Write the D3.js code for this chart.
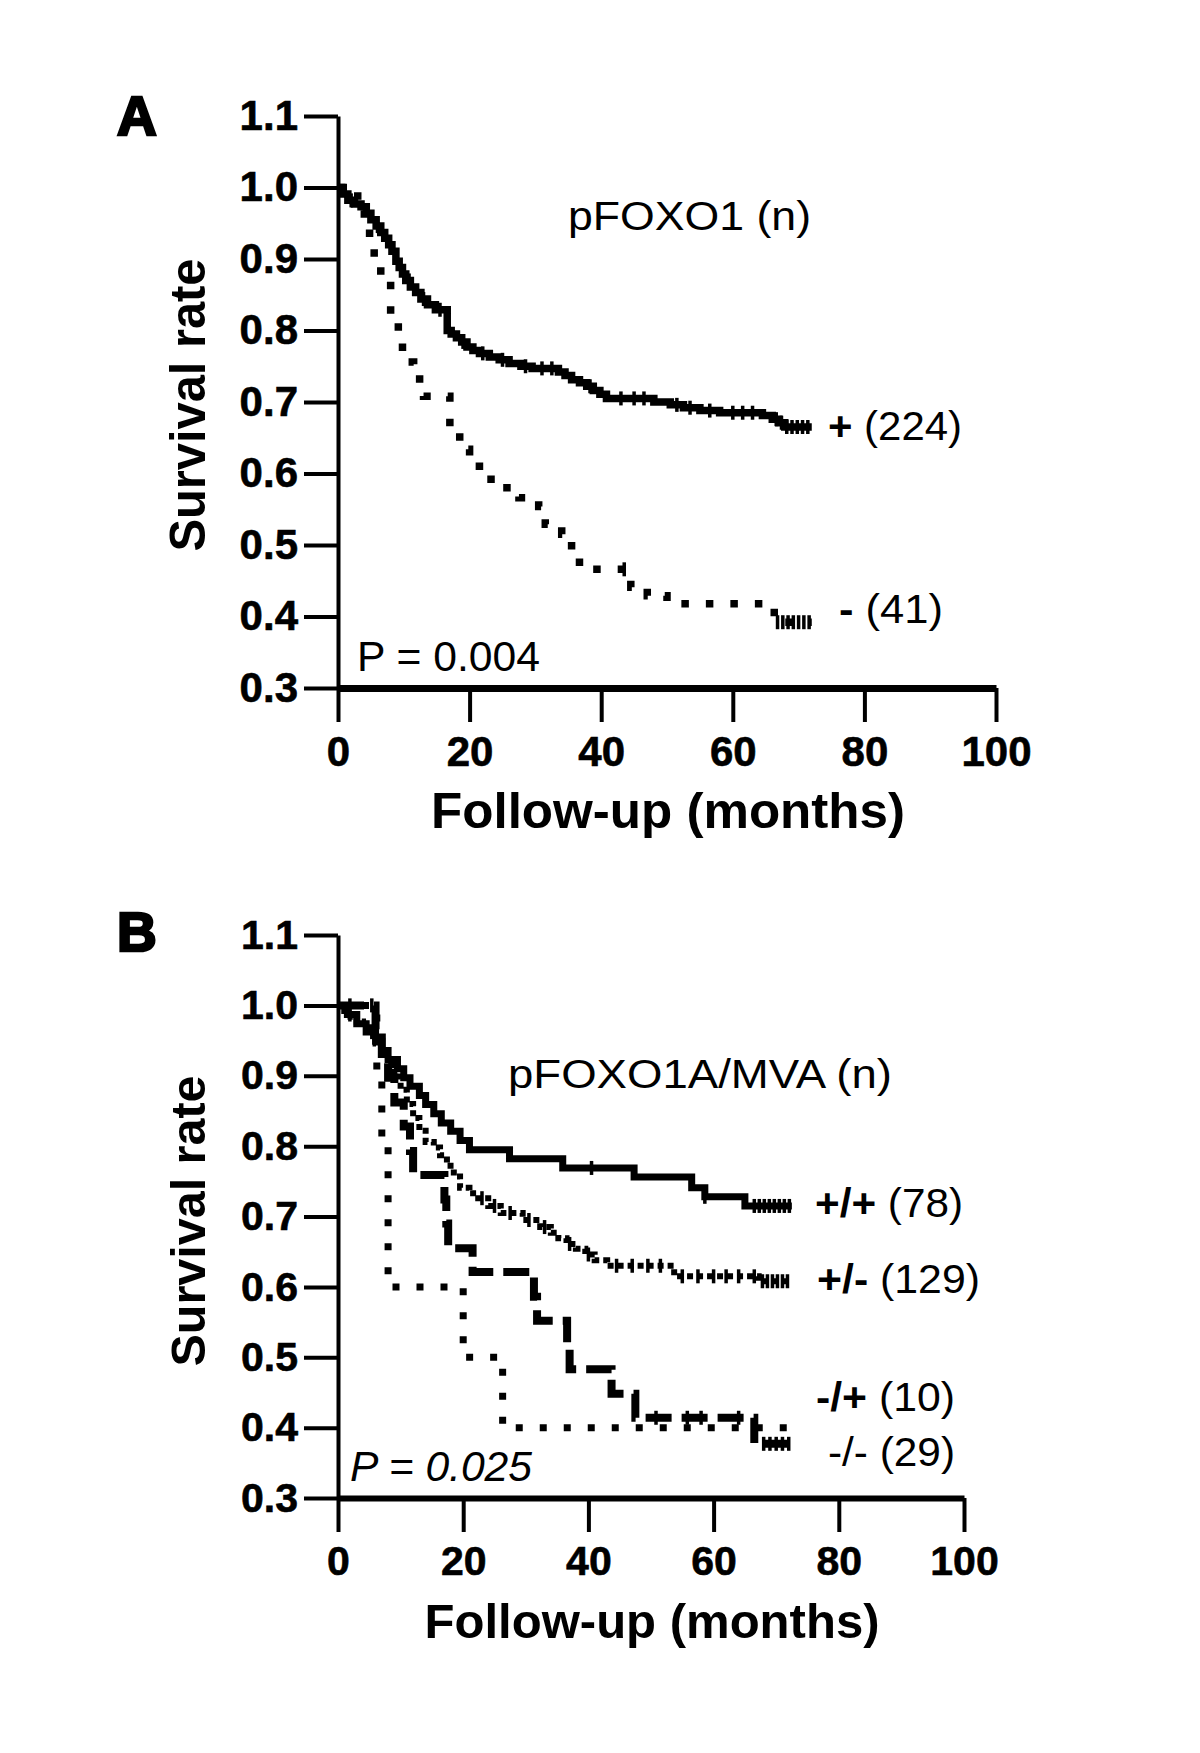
<!DOCTYPE html>
<html>
<head>
<meta charset="utf-8">
<script src="https://cdn.jsdelivr.net/npm/d3@7"></script>
<style>
  html, body { margin: 0; padding: 0; background: #fff; }
  svg { display: block; }
  text { font-family: "Liberation Sans", Arial, Helvetica, sans-serif; fill: #000; }
</style>
</head>
<body>
<script>
// ---------------- DATA ----------------
const xTicks = [0, 20, 40, 60, 80, 100];
const yTicks = [0.3, 0.4, 0.5, 0.6, 0.7, 0.8, 0.9, 1.0, 1.1];

// Panel A: pFOXO1 (n)
const plusA = [[0,1.0],[0.8,0.991],[1.5,0.982],[2.5,0.977],[3.5,0.973],[4.3,0.964],[5,0.955],[5.8,0.946],[6.5,0.937],[7.1,0.929],[7.7,0.920],[8.2,0.911],[8.8,0.897],[9.3,0.888],[9.8,0.879],[10.3,0.870],[11,0.861],[11.8,0.853],[12.6,0.844],[13.6,0.836],[14.8,0.829],[16.6,0.800],[17.2,0.795],[18,0.790],[18.8,0.784],[19.6,0.777],[20.5,0.772],[21.5,0.768],[23,0.763],[24.5,0.759],[26,0.754],[27.8,0.750],[29.5,0.747],[33.5,0.742],[34.5,0.737],[35.5,0.731],[36.7,0.727],[37.8,0.722],[38.8,0.716],[39.8,0.711],[40.8,0.705],[48,0.700],[50.5,0.696],[52.5,0.692],[55,0.688],[58,0.685],[64.5,0.681],[66,0.676],[67,0.671],[67.9,0.665],[72,0.665]];
const minusA = [[0,1.0],[3,0.976],[4,0.951],[4.8,0.927],[5.5,0.902],[6.5,0.878],[8,0.805],[9.8,0.756],[11.5,0.732],[13,0.708],[17,0.659],[18.5,0.634],[20,0.610],[21.5,0.592],[24.5,0.580],[27.5,0.566],[30.5,0.554],[31.5,0.529],[34,0.515],[35.5,0.491],[36.7,0.466],[44.5,0.441],[47,0.429],[50,0.418],[66.3,0.392],[72,0.392]];
const censorPlusA = [2, 6, 10.8, 13, 15.5, 19, 22, 25, 28.5, 31, 32.5, 38.3, 43, 45, 46.5, 51.5, 53.5, 56.5, 60, 61.5, 63, 66.6, 67.4, 68.2, 69, 69.8, 70.6, 71.4];
const censorMinusA = [43.5, 66.8, 67.6, 68.4, 69.2, 70, 70.8, 71.6];
const labelsA = { title: "pFOXO1 (n)", plus: ["+", " (224)"], minus: ["-", " (41)"], p: "P = 0.004" };

// Panel B: pFOXO1A/MVA (n)
const ppB = [[0,1],[1.5,0.987],[3,0.974],[4.5,0.962],[6,0.949],[7,0.936],[8,0.923],[9.5,0.910],[10.5,0.897],[11.5,0.885],[13,0.872],[14,0.859],[15.3,0.846],[16.5,0.833],[18,0.821],[19.5,0.808],[21,0.795],[27.4,0.782],[35.9,0.769],[47.3,0.756],[56.5,0.741],[58.6,0.728],[65,0.715],[72.5,0.715]];
const pmB = [[0,1],[1,0.992],[2,0.984],[3,0.977],[4,0.969],[5,0.961],[6,0.946],[7,0.930],[8,0.915],[9,0.899],[10,0.880],[11,0.860],[12,0.840],[13,0.822],[14,0.806],[15.3,0.798],[16.3,0.787],[17.4,0.772],[18.5,0.757],[19.5,0.741],[21,0.733],[22.4,0.726],[24,0.715],[26,0.705],[29.5,0.695],[32.3,0.685],[34,0.677],[35.2,0.669],[36.5,0.661],[38,0.654],[39.5,0.646],[41,0.638],[43,0.630],[53.7,0.615],[67.2,0.608],[72.5,0.608]];
const mpB = [[0,1],[6.2,0.9],[7,0.8],[8,0.6],[20,0.5],[26.3,0.4],[72,0.4]];
const mmB = [[0,1],[6,0.966],[7,0.931],[8,0.897],[9,0.862],[10.5,0.828],[11.5,0.793],[12,0.759],[17,0.724],[17.3,0.690],[17.6,0.655],[21.5,0.621],[31.3,0.586],[31.8,0.552],[36.6,0.517],[37,0.483],[43.7,0.448],[47.5,0.414],[66.5,0.377],[72.5,0.377]];
const censorPpB = [1.9, 5.4, 40.5, 58.6, 66.5, 67.3, 68.1, 68.9, 69.7, 70.5, 71.3, 72.1];
const censorPmB = [23, 25, 27.5, 30.5, 33, 37, 40, 44.5, 47, 49.5, 51.5, 55, 57.5, 60, 62, 64, 66.5, 67.8, 68.6, 69.4, 70.2, 71, 71.8];
const censorMmB = [1.9, 5.4, 50.8, 55.8, 58, 64, 68, 69, 70, 71, 72];
const labelsB = { title: "pFOXO1A/MVA (n)", pp: ["+/+", " (78)"], pm: ["+/-", " (129)"], mp: ["-/+", " (10)"], mm: ["-/-", " (29)"], p: "P = 0.025" };

const xTitle = "Follow-up (months)";
const yTitle = "Survival rate";

// ---------------- DRAW ----------------
const W = 1200, H = 1753;
const svg = d3.select("body").append("svg").attr("width", W).attr("height", H);
svg.append("rect").attr("width", W).attr("height", H).attr("fill", "#fff");

function stepValue(data, t) {
  let v = data[0][1];
  for (const d of data) { if (d[0] <= t) v = d[1]; else break; }
  return v;
}

function panel(cfg) {
  const g = svg.append("g");
  const x = d3.scaleLinear().domain([0, 100]).range([cfg.x0, cfg.x1]);
  const y = d3.scaleLinear().domain([0.3, 1.1]).range([cfg.yBot, cfg.yTop]);

  // y axis
  const ya = g.append("g").attr("transform", `translate(${cfg.x0},0)`)
    .call(d3.axisLeft(y).tickValues(yTicks).tickSize(34).tickSizeOuter(0).tickPadding(6).tickFormat(d3.format(".1f")));
  ya.select(".domain").attr("stroke", "#000").attr("stroke-width", 4);
  ya.selectAll(".tick line").attr("stroke", "#000").attr("stroke-width", 4);
  ya.selectAll(".tick text").attr("font-size", cfg.tickFont).attr("font-weight", "bold")
    .attr("stroke", "#000").attr("stroke-width", 0.6)
    .style("font-family", '"Liberation Sans", Arial, sans-serif');

  // x axis
  const xa = g.append("g").attr("transform", `translate(0,${cfg.yBot})`)
    .call(d3.axisBottom(x).tickValues(xTicks).tickSize(34).tickSizeOuter(0).tickPadding(14).tickFormat(d3.format("d")));
  xa.select(".domain").attr("stroke", "#000").attr("stroke-width", cfg.xAxisW);
  xa.selectAll(".tick line").attr("stroke", "#000").attr("stroke-width", 4);
  xa.selectAll(".tick text").attr("font-size", cfg.tickFont).attr("font-weight", "bold")
    .attr("stroke", "#000").attr("stroke-width", 0.6)
    .style("font-family", '"Liberation Sans", Arial, sans-serif');

  // titles
  g.append("text").attr("x", cfg.xTitleX).attr("y", cfg.xTitleY).attr("text-anchor", "middle")
    .attr("font-size", cfg.titleFont).attr("font-weight", "bold")
    .attr("textLength", cfg.xTitleLen).attr("lengthAdjust", "spacingAndGlyphs").text(xTitle);
  g.append("text").attr("transform", `translate(205,${cfg.yTitleY}) rotate(-90)`).attr("text-anchor", "middle")
    .attr("font-size", cfg.titleFont).attr("font-weight", "bold")
    .attr("textLength", cfg.yTitleLen).attr("lengthAdjust", "spacingAndGlyphs").text(yTitle);

  // panel letter
  g.append("text").attr("x", 117).attr("y", cfg.letterY).attr("font-size", 55).attr("font-weight", "bold")
    .attr("stroke", "#000").attr("stroke-width", 2.6).text(cfg.letter);

  const line = d3.line().x(d => x(d[0])).y(d => y(d[1])).curve(d3.curveStepAfter);
  cfg.series.forEach(s => {
    g.append("path").datum(s.data).attr("d", line).attr("fill", "none").attr("stroke", "#000")
      .attr("stroke-width", s.w).attr("stroke-dasharray", s.dash || null).attr("stroke-linecap", "butt")
      .attr("stroke-linejoin", "miter");
    (s.censor || []).forEach(t => {
      const cx = x(t), cy = y(stepValue(s.data, t));
      g.append("line").attr("x1", cx).attr("x2", cx).attr("y1", cy - 7).attr("y2", cy + 7)
        .attr("stroke", "#000").attr("stroke-width", 3.5);
    });
  });

  // annotations
  cfg.texts.forEach(t => {
    const el = g.append("text").attr("x", t.x).attr("y", t.y).attr("font-size", t.size)
      .attr("textLength", t.len).attr("lengthAdjust", "spacingAndGlyphs");
    if (t.italic) el.attr("font-style", "italic");
    if (Array.isArray(t.text)) {
      el.append("tspan").attr("font-weight", t.boldPrefix ? "bold" : "normal").text(t.text[0]);
      el.append("tspan").text(t.text[1]);
    } else el.text(t.text);
  });
}

panel({
  letter: "A", letterY: 135,
  x0: 338, x1: 996, yTop: 116, yBot: 688, xAxisW: 7,
  tickFont: 42, titleFont: 50,
  xTitleX: 668, xTitleY: 828, xTitleLen: 474,
  yTitleY: 405, yTitleLen: 293,
  series: [
    { data: minusA, w: 7.5, dash: "7.5,17", censor: censorMinusA },
    { data: plusA, w: 7.5, censor: censorPlusA }
  ],
  texts: [
    { text: labelsA.title, x: 568, y: 230, size: 41, len: 243 },
    { text: labelsA.plus, x: 828, y: 440, size: 40, len: 134, boldPrefix: true },
    { text: labelsA.minus, x: 839, y: 623, size: 40, len: 104, boldPrefix: true },
    { text: labelsA.p, x: 357, y: 671, size: 43, len: 183 }
  ]
});

panel({
  letter: "B", letterY: 951,
  x0: 338, x1: 964, yTop: 935, yBot: 1498, xAxisW: 6,
  tickFont: 41, titleFont: 49,
  xTitleX: 652, xTitleY: 1638, xTitleLen: 455,
  yTitleY: 1221, yTitleLen: 291,
  series: [
    { data: mpB, w: 7, dash: "7,17" },
    { data: mmB, w: 8, dash: "26,10", censor: censorMmB },
    { data: pmB, w: 6, dash: "6,4", censor: censorPmB },
    { data: ppB, w: 7, censor: censorPpB }
  ],
  texts: [
    { text: labelsB.title, x: 508, y: 1088, size: 41, len: 384 },
    { text: labelsB.pp, x: 815, y: 1217, size: 40, len: 148, boldPrefix: true },
    { text: labelsB.pm, x: 817, y: 1293, size: 40, len: 163, boldPrefix: true },
    { text: labelsB.mp, x: 816, y: 1411, size: 40, len: 139, boldPrefix: true },
    { text: labelsB.mm, x: 828, y: 1466, size: 40, len: 127, boldPrefix: false },
    { text: labelsB.p, x: 350, y: 1481, size: 43, len: 182, italic: true }
  ]
});
</script>
</body>
</html>
